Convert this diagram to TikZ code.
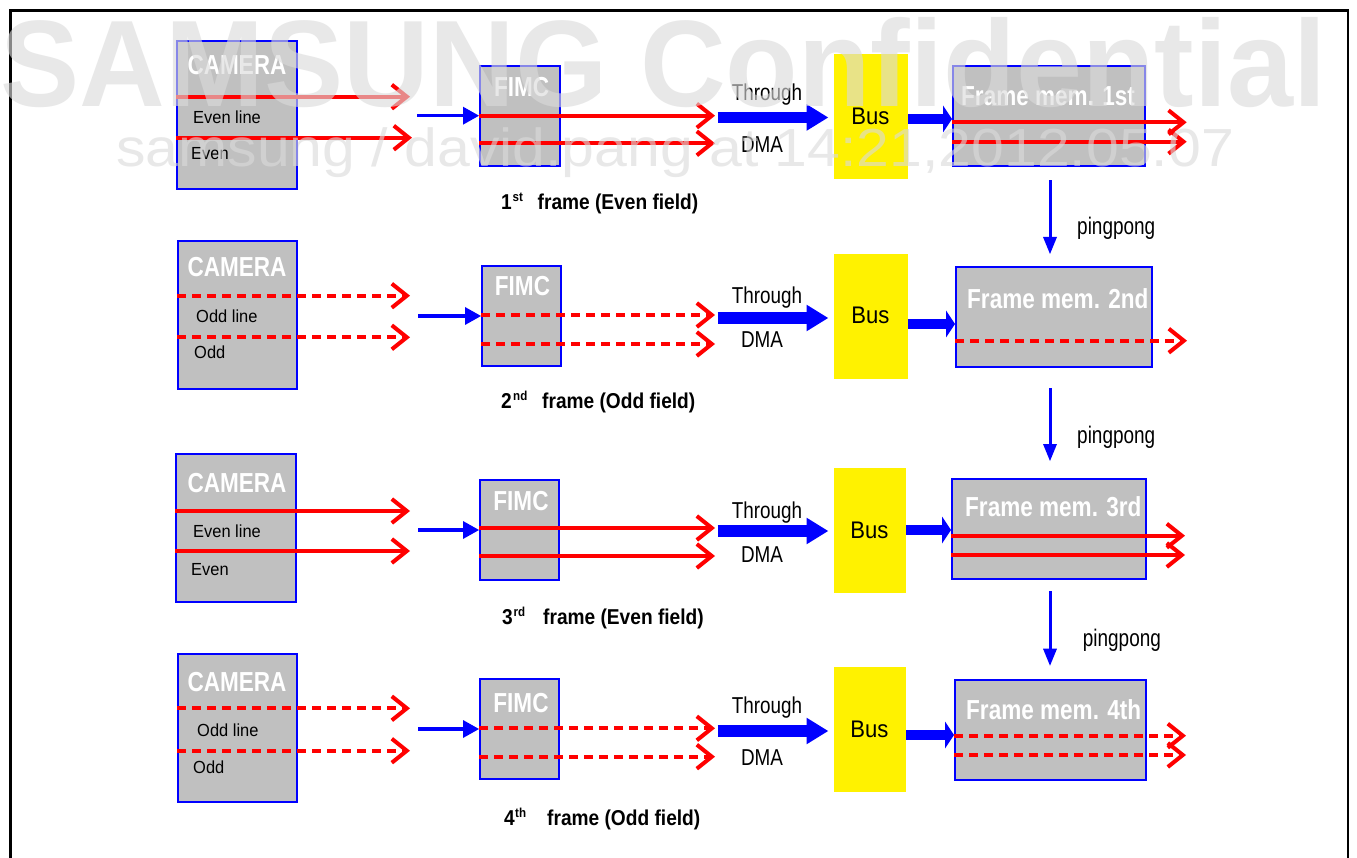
\documentclass[tikz,border=0pt]{standalone}
\usepackage{fontspec}
\setmainfont{Liberation Sans}
\newfontfamily\fA{Liberation Sans}[FakeStretch=0.82]
\newfontfamily\fB{Liberation Sans}[FakeStretch=0.92]
\newfontfamily\fP{Liberation Sans}[FakeStretch=0.79]
\newfontfamily\fK{Liberation Sans}[FakeStretch=0.89]
\newfontfamily\fC{Liberation Sans}[FakeStretch=0.94]
\newfontfamily\fW{Liberation Sans}[FakeStretch=0.965]
\newfontfamily\fWs{Liberation Sans}[FakeStretch=1.10]
\usetikzlibrary{arrows.meta}
\definecolor{boxgray}{RGB}{192,192,192}
\definecolor{wmgray}{RGB}{218,218,218}
\tikzset{
  box/.style={draw=blue, line width=2pt, fill=boxgray, inner sep=0pt},
  busbox/.style={fill=yellow, inner sep=0pt},
  rl/.style={draw=red, line width=4pt, -{Straight Barb[length=15pt,width=24pt]}},
  rld/.style={rl, dash pattern=on 9pt off 6pt},
  thinarr/.style={draw=blue, line width=3.3pt, -{Triangle[length=16pt,width=18pt,line width=0pt]}},
  dmaarr/.style={draw=blue, line width=11.7pt, -{Triangle[length=21.6pt,width=26.7pt,line width=0pt]}},
  bmarr/.style={draw=blue, line width=10pt, -{Triangle[length=9pt,width=27pt,line width=0pt]}},
  pparr/.style={draw=blue, line width=3pt, -{Triangle[length=17pt,width=14pt,line width=0pt]}},
  title/.style={text=white, font=\fA\bfseries\fontsize{27.5}{30}\selectfont, inner sep=0pt},
  lab/.style={font=\fC\fontsize{17.5}{20}\selectfont, inner sep=0pt, anchor=base west},
  dmat/.style={font=\fA\fontsize{23}{26}\selectfont, inner sep=0pt, anchor=base},
  bust/.style={font=\fB\fontsize{24}{26}\selectfont, inner sep=0pt, anchor=base},
  ppt/.style={font=\fP\fontsize{24}{26}\selectfont, inner sep=0pt, anchor=base west},
  capt/.style={font=\fK\bfseries\fontsize{21.5}{24}\selectfont, inner sep=0pt, anchor=base west},
  supt/.style={font=\fK\bfseries\fontsize{13}{15}\selectfont, inner sep=0pt, anchor=base west},
  wmbig/.style={text=wmgray, opacity=0.62, font=\fW\bfseries\fontsize{123}{130}\selectfont, inner sep=0pt, anchor=base west},
  wmsmall/.style={text=wmgray, opacity=0.62, font=\fWs\fontsize{53.6}{60}\selectfont, inner sep=0pt, anchor=base west}
}
\begin{document}
\begin{tikzpicture}[x=1pt,y=-1pt]
\useasboundingbox (0,0) rectangle (1357,858);
\clip (0,0) rectangle (1357,858);
\fill[white] (0,0) rectangle (1357,858);
\draw[line width=2.5pt] (10.5,875) -- (10.5,10.5) -- (1348,10.5) -- (1348,875);
\coordinate (ppx) at (1050,0);

% ---------------- Row 1 ----------------
\node[box, minimum width=120pt, minimum height=148pt] (cam1) at (237,115) {};
\node[box, minimum width=80pt, minimum height=100pt] (fimc1) at (520,116.3) {};
\node[busbox, minimum width=74pt, minimum height=125pt] (bus1) at (871,116.5) {};
\node[box, minimum width=191.5pt, minimum height=100.5pt] (mem1) at (1048.75,116.25) {};
\node[title, anchor=base] (cam1t) at (237,75) {CAMERA};
\node[lab] (cam1a) at (193,123.3) {Even line};
\node[lab] (cam1b) at (191,160) {Even};
\node[title, anchor=base] (fimc1t) at (521.7,96.7) {FIMC};
\node[dmat] (thr1) at (767,100.7) {Through};
\node[dmat] (dma1) at (762,152.7) {DMA};
\node[bust] (bus1t) at (870.5,125) {Bus};
\node[title, anchor=base west] (mem1t) at (961,106) {Frame mem. 1st};
\node[ppt] (pp1t) at (1077,234.3) {pingpong};
\node[capt] (cap1n) at (501,209.3) {1};
\node[supt] (cap1s) at (512.5,201.7) {st};
\node[capt] (cap1) at (537.5,209.3) {frame (Even field)};
\coordinate (c1a) at (410,96.7); \coordinate (c1b) at (412,137.7);
\draw[rl] (cam1.west |- c1a) -- (c1a);
\draw[rl] (cam1.west |- c1b) -- (c1b);
\coordinate (i1) at (417,115.7);
\draw[thinarr] (i1) -- (fimc1.west |- i1);
\coordinate (f1a) at (715,115.7); \coordinate (f1b) at (715,143.3);
\draw[rl] (fimc1.west |- f1a) -- (f1a);
\draw[rl] (fimc1.west |- f1b) -- (f1b);
\coordinate (d1) at (717.7,117.5);
\draw[dmaarr] (d1) -- ([xshift=-5.7pt]bus1.west |- d1);
\coordinate (b1) at (0,119);
\draw[bmarr] (bus1.east |- b1) -- (mem1.west |- b1);
\coordinate (m1a) at (1186.7,122.3); \coordinate (m1b) at (1186.7,141.7);
\draw[rl] (mem1.west |- m1a) -- (m1a);
\draw[rl] (mem1.west |- m1b) -- (m1b);

% ---------------- Row 2 ----------------
\node[box, minimum width=119pt, minimum height=148pt] (cam2) at (237.5,315) {};
\node[box, minimum width=79pt, minimum height=100pt] (fimc2) at (521.5,316) {};
\node[busbox, minimum width=74pt, minimum height=125pt] (bus2) at (871,316.5) {};
\node[box, minimum width=196pt, minimum height=100pt] (mem2) at (1054,316.7) {};
\node[title, anchor=base] (cam2t) at (237,277) {CAMERA};
\node[lab] (cam2a) at (196,322.7) {Odd line};
\node[lab] (cam2b) at (194,359) {Odd};
\node[title, anchor=base] (fimc2t) at (522.5,296) {FIMC};
\node[dmat] (thr2) at (767,303.7) {Through};
\node[dmat] (dma2) at (762,347.7) {DMA};
\node[bust] (bus2t) at (870.5,324) {Bus};
\node[title, anchor=base west] (mem2t) at (967,309) {Frame mem. 2nd};
\node[ppt] (pp2t) at (1077,443) {pingpong};
\node[capt] (cap2n) at (501,408.3) {2};
\node[supt] (cap2s) at (513,400.7) {nd};
\node[capt] (cap2) at (542,408.3) {frame (Odd field)};
\coordinate (c2a) at (410,295.7); \coordinate (c2b) at (410,337.3);
\draw[rld] (cam2.west |- c2a) -- (c2a);
\draw[rld] (cam2.west |- c2b) -- (c2b);
\coordinate (i2) at (418,316);
\draw[thinarr] (i2) -- (fimc2.west |- i2);
\coordinate (f2a) at (715,315); \coordinate (f2b) at (715,344);
\draw[rld] (fimc2.west |- f2a) -- (f2a);
\draw[rld] (fimc2.west |- f2b) -- (f2b);
\coordinate (d2) at (717.7,318);
\draw[dmaarr] (d2) -- ([xshift=-5.7pt]bus2.west |- d2);
\coordinate (b2) at (0,324);
\draw[bmarr] (bus2.east |- b2) -- (mem2.west |- b2);
\coordinate (m2a) at (1187,340.7);
\draw[rld] (mem2.west |- m2a) -- (m2a);
\draw[pparr] ([yshift=-12.8pt]mem1.south -| ppx) -- ([yshift=11.7pt]mem2.north -| ppx);

% ---------------- Row 3 ----------------
\node[box, minimum width=120pt, minimum height=148pt] (cam3) at (236,528) {};
\node[box, minimum width=79pt, minimum height=100pt] (fimc3) at (519.5,530) {};
\node[busbox, minimum width=72pt, minimum height=125pt] (bus3) at (870,530.5) {};
\node[box, minimum width=193.7pt, minimum height=100pt] (mem3) at (1048.85,529) {};
\node[title, anchor=base] (cam3t) at (237,492) {CAMERA};
\node[lab] (cam3a) at (193,537.3) {Even line};
\node[lab] (cam3b) at (191,575) {Even};
\node[title, anchor=base] (fimc3t) at (521,510.7) {FIMC};
\node[dmat] (thr3) at (767,518.7) {Through};
\node[dmat] (dma3) at (762,562.7) {DMA};
\node[bust] (bus3t) at (869.5,538) {Bus};
\node[title, anchor=base west] (mem3t) at (965,516) {Frame mem. 3rd};
\node[ppt] (pp3t) at (1082.7,646.7) {pingpong};
\node[capt] (cap3n) at (502,624.3) {3};
\node[supt] (cap3s) at (513.5,616.7) {rd};
\node[capt] (cap3) at (543,624.3) {frame (Even field)};
\coordinate (c3a) at (410,511); \coordinate (c3b) at (410,551);
\draw[rl] (cam3.west |- c3a) -- (c3a);
\draw[rl] (cam3.west |- c3b) -- (c3b);
\coordinate (i3) at (418,530);
\draw[thinarr] (i3) -- (fimc3.west |- i3);
\coordinate (f3a) at (715,528); \coordinate (f3b) at (715,556);
\draw[rl] (fimc3.west |- f3a) -- (f3a);
\draw[rl] (fimc3.west |- f3b) -- (f3b);
\coordinate (d3) at (717.7,531);
\draw[dmaarr] (d3) -- ([xshift=-5.7pt]bus3.west |- d3);
\coordinate (b3) at (0,530);
\draw[bmarr] (bus3.east |- b3) -- (mem3.west |- b3);
\coordinate (m3a) at (1185,535.7); \coordinate (m3b) at (1185,555);
\draw[rl] (mem3.west |- m3a) -- (m3a);
\draw[rl] (mem3.west |- m3b) -- (m3b);
\draw[pparr] ([yshift=-20.3pt]mem2.south -| ppx) -- ([yshift=17pt]mem3.north -| ppx);

% ---------------- Row 4 ----------------
\node[box, minimum width=119pt, minimum height=148pt] (cam4) at (237.5,728) {};
\node[box, minimum width=79pt, minimum height=100pt] (fimc4) at (519.5,729) {};
\node[busbox, minimum width=72pt, minimum height=125pt] (bus4) at (870,729.5) {};
\node[box, minimum width=190.7pt, minimum height=100pt] (mem4) at (1050.35,730) {};
\node[title, anchor=base] (cam4t) at (237,691.7) {CAMERA};
\node[lab] (cam4a) at (197,736.7) {Odd line};
\node[lab] (cam4b) at (193,773.3) {Odd};
\node[title, anchor=base] (fimc4t) at (521,712.7) {FIMC};
\node[dmat] (thr4) at (767,713) {Through};
\node[dmat] (dma4) at (762,765.5) {DMA};
\node[bust] (bus4t) at (869.5,737) {Bus};
\node[title, anchor=base west] (mem4t) at (966,719.3) {Frame mem. 4th};
\node[capt] (cap4n) at (504,825) {4};
\node[supt] (cap4s) at (515,817.4) {th};
\node[capt] (cap4) at (547,825) {frame (Odd field)};
\coordinate (c4a) at (410,708.3); \coordinate (c4b) at (410,750.7);
\draw[rld] (cam4.west |- c4a) -- (c4a);
\draw[rld] (cam4.west |- c4b) -- (c4b);
\coordinate (i4) at (418,729);
\draw[thinarr] (i4) -- (fimc4.west |- i4);
\coordinate (f4a) at (715,728.3); \coordinate (f4b) at (715,756.7);
\draw[rld] (fimc4.west |- f4a) -- (f4a);
\draw[rld] (fimc4.west |- f4b) -- (f4b);
\coordinate (d4) at (717.7,731);
\draw[dmaarr] (d4) -- ([xshift=-5.7pt]bus4.west |- d4);
\coordinate (b4) at (0,735);
\draw[bmarr] (bus4.east |- b4) -- (mem4.west |- b4);
\coordinate (m4a) at (1186,735.7); \coordinate (m4b) at (1186,755);
\draw[rld] (mem4.west |- m4a) -- (m4a);
\draw[rld] (mem4.west |- m4b) -- (m4b);
\draw[pparr] ([yshift=-11pt]mem3.south -| ppx) -- ([yshift=13.3pt]mem4.north -| ppx);

% ---------------- Watermark ----------------
\node[wmbig] (wm1) at (0.5,106.7) {SAMSUNG Confidential};
\node[wmsmall] (wm2) at (116,166.7) {samsung / david.pang at 14:21,2012.05.07};
\end{tikzpicture}
\end{document}
